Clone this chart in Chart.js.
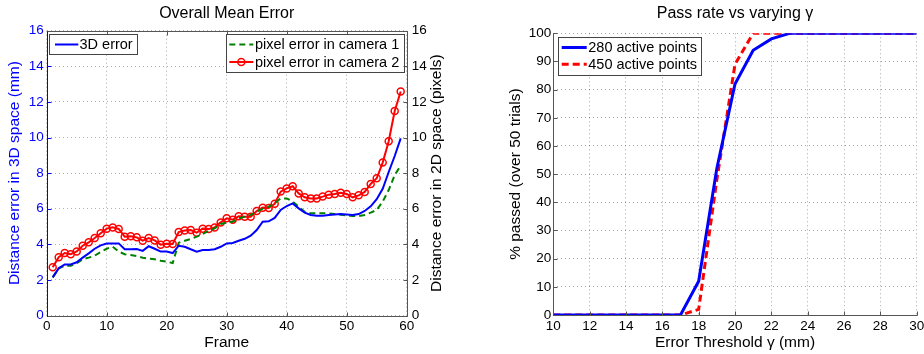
<!DOCTYPE html>
<html>
<head>
<meta charset="utf-8">
<script src="https://cdn.jsdelivr.net/npm/chart.js@4.4.1/dist/chart.umd.min.js"></script>
<style>
  html, body { margin: 0; padding: 0; background: #fff; }
  #wrap { position: relative; width: 924px; height: 354px; }
  canvas { position: absolute; top: 0; }
  #errChart { left: 0; }
  #passChart { left: 462px; }
</style>
</head>
<body>
<div id="wrap">
  <canvas id="errChart" width="462" height="354"></canvas>
  <canvas id="passChart" width="462" height="354"></canvas>
</div>
<script>
// ---- left chart: overall mean error per frame ----
const frames = [1, 2, 3, 4, 5, 6, 7, 8, 9, 10, 11, 12, 13, 14, 15, 16, 17, 18, 19, 20,
  21, 22, 23, 24, 25, 26, 27, 28, 29, 30, 31, 32, 33, 34, 35, 36, 37, 38, 39, 40,
  41, 42, 43, 44, 45, 46, 47, 48, 49, 50, 51, 52, 53, 54, 55, 56, 57, 58, 59];
const err3d = [2.14, 2.65, 2.87, 2.87, 2.99, 3.25, 3.49, 3.75, 3.94, 4.04,
  4.05, 4.05, 3.72, 3.72, 3.74, 3.63, 3.89, 3.75, 3.59, 3.60,
  3.51, 3.92, 3.86, 3.72, 3.59, 3.68, 3.68, 3.72, 3.86, 4.05,
  4.07, 4.20, 4.31, 4.48, 4.80, 5.27, 5.29, 5.48, 5.93, 6.15,
  6.30, 6.02, 5.78, 5.65, 5.61, 5.61, 5.65, 5.68, 5.70, 5.68,
  5.65, 5.70, 5.87, 6.13, 6.53, 7.12, 8.06, 8.96, 9.95];
const pixCam1 = [2.14, 2.65, 2.80, 2.80, 2.93, 3.16, 3.25, 3.36, 3.57, 3.75,
  3.87, 3.59, 3.44, 3.40, 3.34, 3.25, 3.19, 3.16, 3.08, 3.02,
  2.95, 4.09, 4.20, 4.30, 4.43, 4.58, 4.75, 4.90, 5.14, 5.22,
  5.27, 5.46, 5.55, 5.65, 5.83, 6.00, 6.11, 6.30, 6.58, 6.58,
  6.40, 6.11, 5.83, 5.74, 5.74, 5.74, 5.74, 5.70, 5.66, 5.62,
  5.59, 5.59, 5.65, 5.78, 5.93, 6.40, 7.05, 7.89, 8.42];
const pixCam2 = [2.71, 3.27, 3.51, 3.44, 3.60, 3.92, 4.11, 4.35, 4.62, 4.88,
  4.95, 4.86, 4.43, 4.45, 4.39, 4.20, 4.35, 4.22, 3.98, 4.03,
  4.02, 4.69, 4.78, 4.80, 4.65, 4.88, 4.86, 4.95, 5.23, 5.46,
  5.38, 5.57, 5.55, 5.55, 5.87, 6.06, 6.04, 6.28, 6.96, 7.14,
  7.26, 6.86, 6.64, 6.58, 6.58, 6.68, 6.79, 6.83, 6.90, 6.83,
  6.64, 6.75, 6.94, 7.39, 7.71, 8.59, 9.79, 11.49, 12.58];

// ---- right chart: pass rate vs threshold ----
const thresholds = [10, 11, 12, 13, 14, 15, 16, 17, 18, 19, 20, 21, 22, 23, 24, 25, 26, 27, 28, 29, 30];
const passed280 = [0, 0, 0, 0, 0, 0, 0, 0, 12, 52, 82, 94, 98, 100, 100, 100, 100, 100, 100, 100, 100];
const passed450 = [0, 0, 0, 0, 0, 0, 0, 0, 2, 48, 89, 100, 100, 100, 100, 100, 100, 100, 100, 100, 100];

const FONT = '"Liberation Sans", Arial, Helvetica, sans-serif';
Chart.defaults.font.family = FONT;
Chart.defaults.color = '#000';

function pts(xs, ys) {
  return xs.map((x, i) => ({ x: x, y: ys[i] }));
}

// axis lines round the plot area plus small inward tick marks (matlab look)
const framePlugin = {
  id: 'frame',
  afterDatasetsDraw(chart, args, opts) {
    const { ctx, chartArea: a, scales } = chart;
    const len = 4;
    const box = opts.box !== false;
    const L = Math.round(a.left) + 0.5, R = Math.round(a.right) + 0.5;
    const T = Math.round(a.top) + 0.5, B = Math.round(a.bottom) + 0.5;
    ctx.save();
    ctx.lineWidth = 1;
    Object.values(scales).forEach(s => {
      ctx.strokeStyle = (opts.tickColors && opts.tickColors[s.id]) || '#555';
      ctx.beginPath();
      s.ticks.forEach((t, i) => {
        const p = Math.round(s.getPixelForTick(i)) + 0.5;
        if (s.isHorizontal()) {
          ctx.moveTo(p, B); ctx.lineTo(p, B - len);
          if (box) { ctx.moveTo(p, T); ctx.lineTo(p, T + len); }
        } else if (s.position === 'left') {
          ctx.moveTo(L, p); ctx.lineTo(L + len, p);
        } else {
          ctx.moveTo(R, p); ctx.lineTo(R - len, p);
        }
      });
      ctx.stroke();
    });
    ctx.strokeStyle = '#555';
    ctx.beginPath();
    ctx.moveTo(L, B); ctx.lineTo(R, B);
    if (box) {
      ctx.moveTo(R, B); ctx.lineTo(R, T); ctx.lineTo(L, T);
    }
    ctx.stroke();
    ctx.strokeStyle = opts.leftColor || '#555';
    ctx.beginPath();
    ctx.moveTo(L, T); ctx.lineTo(L, B + 0.5);
    ctx.stroke();
    ctx.restore();
  }
};

// legend boxes placed like the matlab ones
const boxLegend = {
  id: 'boxLegend',
  afterDraw(chart, args, opts) {
    const ctx = chart.ctx;
    (opts.boxes || []).forEach(b => {
      ctx.save();
      ctx.fillStyle = '#fff';
      ctx.fillRect(b.x, b.y, b.w, b.h);
      ctx.strokeStyle = '#444';
      ctx.lineWidth = 1;
      ctx.strokeRect(Math.round(b.x) + 0.5, Math.round(b.y) + 0.5, Math.round(b.w), Math.round(b.h));
      b.rows.forEach(r => {
        const ds = chart.data.datasets[r.ds];
        ctx.save();
        ctx.strokeStyle = ds.borderColor;
        ctx.lineWidth = ds.borderWidth;
        ctx.setLineDash(ds.borderDash || []);
        ctx.beginPath();
        ctx.moveTo(b.x0, r.y);
        ctx.lineTo(b.x1, r.y);
        ctx.stroke();
        ctx.setLineDash([]);
        if (ds.pointRadius) {
          ctx.lineWidth = ds.pointBorderWidth;
          ctx.beginPath();
          ctx.arc((b.x0 + b.x1) / 2, r.y, ds.pointRadius, 0, Math.PI * 2);
          ctx.stroke();
        }
        ctx.restore();
        ctx.fillStyle = '#000';
        ctx.font = '14.5px ' + FONT;
        ctx.textBaseline = 'middle';
        ctx.textAlign = 'left';
        ctx.fillText(ds.label, b.tx, r.y + 0.5);
      });
      ctx.restore();
    });
  }
};

// right-hand axis title, read bottom-to-top as in the original
const sideTitle = {
  id: 'sideTitle',
  afterDraw(chart, args, opts) {
    if (!opts.text) return;
    const { ctx, chartArea: a } = chart;
    ctx.save();
    ctx.translate(opts.x, (a.top + a.bottom) / 2);
    ctx.rotate(-Math.PI / 2);
    ctx.font = '15.5px ' + FONT;
    ctx.fillStyle = '#000';
    ctx.textAlign = 'center';
    ctx.textBaseline = 'middle';
    ctx.fillText(opts.text, 0, 0);
    ctx.restore();
  }
};

const tickFont = { size: 13.5 };
const axisTitleFont = { size: 15.5 };
const dotted = [1, 3];

new Chart(document.getElementById('errChart'), {
  type: 'line',
  data: {
    datasets: [
      {
        label: '3D error',
        data: pts(frames, err3d),
        yAxisID: 'y',
        borderColor: '#0000ff',
        borderWidth: 2,
        pointRadius: 0
      },
      {
        label: 'pixel error in camera 1',
        data: pts(frames, pixCam1),
        yAxisID: 'y2',
        borderColor: '#008000',
        borderWidth: 2,
        borderDash: [6, 4],
        pointRadius: 0
      },
      {
        label: 'pixel error in camera 2',
        data: pts(frames, pixCam2),
        yAxisID: 'y2',
        borderColor: '#ff0000',
        borderWidth: 2,
        pointRadius: 3.5,
        pointBorderWidth: 1.5,
        pointBorderColor: '#ff0000',
        pointBackgroundColor: 'rgba(255,255,255,0)'
      }
    ]
  },
  options: {
    responsive: false,
    animation: false,
    events: [],
    plugins: {
      legend: { display: false },
      tooltip: { enabled: false },
      title: {
        display: true,
        text: 'Overall Mean Error',
        fullSize: false,
        color: '#000',
        font: { size: 16, weight: 'normal' },
        padding: { top: 4, bottom: 7.5 }
      },
      frame: { leftColor: '#0000ff', tickColors: { x: '#555', y: '#0000ff', y2: '#555' } },
      boxLegend: {
        boxes: [
          { x: 49.3, y: 34, w: 88, h: 20.3, x0: 55, x1: 78.3, tx: 79.5, rows: [{ ds: 0, y: 44.5 }] },
          { x: 225.7, y: 34, w: 177.6, h: 38.3, x0: 229.3, x1: 253.3, tx: 255,
            rows: [{ ds: 1, y: 44.5 }, { ds: 2, y: 62 }] }
        ]
      },
      sideTitle: { text: 'Distance error in 2D space (pixels)', x: 437 }
    },
    scales: {
      x: {
        type: 'linear',
        min: 0,
        max: 60,
        ticks: { stepSize: 10, font: tickFont, color: '#000', padding: 3 },
        grid: { color: 'rgba(0,0,0,0.35)', drawTicks: false },
        border: { display: false, dash: dotted },
        title: { display: true, text: 'Frame', font: axisTitleFont, color: '#000', padding: { top: 0, bottom: 1.7 } },
        afterFit: s => { s.height = 38.5; }
      },
      y: {
        position: 'left',
        min: 0,
        max: 16,
        ticks: { stepSize: 2, font: tickFont, color: '#0000ff', padding: 3 },
        grid: { color: 'rgba(80,80,255,0.5)', drawTicks: false },
        border: { display: false, dash: dotted },
        title: { display: true, text: 'Distance error in 3D space (mm)', font: axisTitleFont, color: '#0000ff', padding: { top: 5.7, bottom: 0 } },
        afterFit: s => { s.width = 46.7; }
      },
      y2: {
        position: 'right',
        min: 0,
        max: 16,
        ticks: { stepSize: 2, font: tickFont, color: '#000', padding: 5 },
        grid: { drawOnChartArea: false, drawTicks: false },
        border: { display: false },
        afterFit: s => { s.width = 55.3; }
      }
    }
  },
  plugins: [framePlugin, boxLegend, sideTitle]
});

new Chart(document.getElementById('passChart'), {
  type: 'line',
  data: {
    datasets: [
      {
        label: '280 active points',
        data: pts(thresholds, passed280),
        borderColor: '#0000ff',
        borderWidth: 3,
        pointRadius: 0
      },
      {
        label: '450 active points',
        data: pts(thresholds, passed450),
        borderColor: '#ff0000',
        borderWidth: 3,
        borderDash: [7, 4],
        pointRadius: 0
      }
    ]
  },
  options: {
    responsive: false,
    animation: false,
    events: [],
    plugins: {
      legend: { display: false },
      tooltip: { enabled: false },
      title: {
        display: true,
        text: 'Pass rate vs varying γ',
        fullSize: false,
        color: '#000',
        font: { size: 16, weight: 'normal' },
        padding: { top: 4, bottom: 10.1 }
      },
      frame: { box: false },
      boxLegend: {
        boxes: [
          { x: 96.3, y: 36.7, w: 143.4, h: 37.6, x0: 99.7, x1: 124.7, tx: 126.3,
            rows: [{ ds: 0, y: 47.5 }, { ds: 1, y: 64.3 }] }
        ]
      }
    },
    scales: {
      x: {
        type: 'linear',
        min: 10,
        max: 30,
        ticks: { stepSize: 2, font: tickFont, color: '#000', padding: 3 },
        grid: { color: 'rgba(0,0,0,0.35)', drawTicks: false },
        border: { display: false, dash: dotted },
        title: { display: true, text: 'Error Threshold γ (mm)', font: axisTitleFont, color: '#000', padding: { top: 0, bottom: 1.7 } },
        // keep the right end of the axis where the original has it
        afterFit: s => { s.height = 39; s.paddingRight = 7.3; }
      },
      y: {
        position: 'left',
        min: 0,
        max: 100,
        ticks: { stepSize: 10, font: tickFont, color: '#000', padding: 2 },
        grid: { color: 'rgba(0,0,0,0.35)', drawTicks: false },
        border: { display: false, dash: dotted },
        title: { display: true, text: '% passed (over 50 trials)', font: axisTitleFont, color: '#000', padding: { top: 44.7, bottom: 0 } },
        afterFit: s => { s.width = 91.3; }
      }
    }
  },
  plugins: [framePlugin, boxLegend]
});
</script>
</body>
</html>
